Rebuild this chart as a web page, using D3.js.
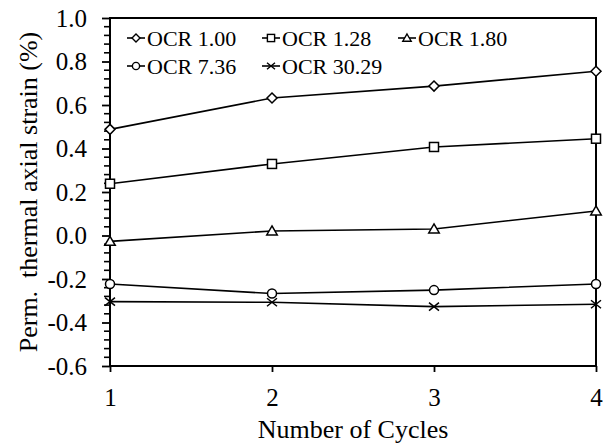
<!DOCTYPE html>
<html>
<head>
<meta charset="utf-8">
<script src="https://cdn.jsdelivr.net/npm/d3@7"></script>
<style>
  html, body { margin: 0; padding: 0; background: #fff; }
  svg { display: block; }
  svg text { font-family: "Liberation Serif", "Times New Roman", serif; }
</style>
</head>
<body>
<svg id="chart" width="605" height="443"></svg>
<script>
// Permanent thermal axial strain per heating/cooling cycle for each OCR
const cycles = [1, 2, 3, 4];
const seriesNames = ["OCR 1.00", "OCR 1.28", "OCR 1.80", "OCR 7.36", "OCR 30.29"];
const ocr100 = [0.488, 0.632, 0.687, 0.755];
const ocr128 = [0.238, 0.329, 0.407, 0.445];
const ocr180 = [-0.027, 0.021, 0.030, 0.113];
const ocr736 = [-0.223, -0.267, -0.251, -0.223];
const ocr3029 = [-0.304, -0.307, -0.327, -0.316];
const markerTypes = ["diamond", "square", "triangle", "circle", "cross"];
const yMajorTicks = [-0.6, -0.4, -0.2, 0.0, 0.2, 0.4, 0.6, 0.8, 1.0];
const xTicks = [1, 2, 3, 4];

const seriesValues = [ocr100, ocr128, ocr180, ocr736, ocr3029];

const W = 605, H = 443;
const margin = { top: 18, right: 9, bottom: 77, left: 110 };
const innerW = W - margin.left - margin.right;
const innerH = H - margin.top - margin.bottom;

const svg = d3.select("#chart");
const g = svg.append("g").attr("transform", `translate(${margin.left},${margin.top})`);

const x = d3.scaleLinear().domain([1, 4]).range([0, innerW]);
const y = d3.scaleLinear().domain([-0.6, 1.0]).range([innerH, 0]);

// Minor y ticks every 0.04
const minorTicks = d3.range(0, 41).map(i => -0.6 + i * 0.04)
  .filter(v => !yMajorTicks.some(m => Math.abs(m - v) < 1e-6));
g.append("g")
  .selectAll("line")
  .data(minorTicks)
  .join("line")
  .attr("x1", -6).attr("x2", 0)
  .attr("y1", d => y(d)).attr("y2", d => y(d))
  .attr("stroke", "#000").attr("stroke-width", 1.6);

// Left axis (plain hyphen for negatives)
const yAxis = g.append("g")
  .call(d3.axisLeft(y).tickValues(yMajorTicks)
    .tickFormat(d => (Math.abs(d) < 1e-9 ? 0 : d).toFixed(1))
    .tickSize(8).tickPadding(15));
yAxis.attr("font-family", null);
yAxis.select(".domain").remove();
yAxis.selectAll(".tick line").attr("stroke", "#000").attr("stroke-width", 1.8);
yAxis.selectAll(".tick text").attr("font-size", 25).attr("fill", "#000");

// Bottom axis
const xAxis = g.append("g")
  .attr("transform", `translate(0,${innerH})`)
  .call(d3.axisBottom(x).tickValues(xTicks).tickFormat(d3.format("d")).tickSize(6).tickPadding(16));
xAxis.attr("font-family", null);
xAxis.select(".domain").remove();
xAxis.selectAll(".tick line").attr("stroke", "#000").attr("stroke-width", 1.8);
xAxis.selectAll(".tick text").attr("font-size", 25).attr("fill", "#000");

// Frame
g.append("rect")
  .attr("x", 0).attr("y", 0).attr("width", innerW).attr("height", innerH)
  .attr("fill", "none").attr("stroke", "#000").attr("stroke-width", 2);

// Marker drawing
function drawMarker(sel, type, size) {
  const s = size;
  if (type === "diamond") {
    sel.append("path").attr("d", `M0,${-s}L${s},0L0,${s}L${-s},0Z`);
  } else if (type === "square") {
    sel.append("rect").attr("x", -s * 0.9).attr("y", -s * 0.9).attr("width", s * 1.8).attr("height", s * 1.8);
  } else if (type === "triangle") {
    sel.append("path").attr("d", `M0,${-s * 1.0}L${s * 1.05},${s * 0.8}L${-s * 1.05},${s * 0.8}Z`);
  } else if (type === "circle") {
    sel.append("circle").attr("r", s * 0.9);
  } else if (type === "cross") {
    sel.append("path").attr("d", `M${-s},${-s * 0.8}L${s},${s * 0.8}M${-s},${s * 0.8}L${s},${-s * 0.8}`);
  }
}

const line = d3.line().x((d, i) => x(cycles[i])).y(d => y(d));

seriesValues.forEach((vals, si) => {
  g.append("path")
    .datum(vals)
    .attr("d", line)
    .attr("fill", "none")
    .attr("stroke", "#000")
    .attr("stroke-width", 1.6);
  vals.forEach((v, i) => {
    const m = g.append("g")
      .attr("transform", `translate(${x(cycles[i])},${y(v)})`)
      .attr("fill", "#fff").attr("stroke", "#000").attr("stroke-width", 1.5);
    drawMarker(m, markerTypes[si], 5);
  });
});

// Legend
const legendCols = [127, 262, 398];
const legendRows = [45.5, 73.5];
seriesNames.forEach((name, i) => {
  const col = i % 3, row = Math.floor(i / 3);
  const lx = legendCols[col], ly = legendRows[row];
  const lg = svg.append("g").attr("transform", `translate(${lx},${ly})`);
  lg.append("line").attr("x1", 0).attr("x2", 18).attr("y1", -7.5).attr("y2", -7.5)
    .attr("stroke", "#000").attr("stroke-width", 1.6);
  const m = lg.append("g").attr("transform", "translate(9,-7.5)")
    .attr("fill", "#fff").attr("stroke", "#000").attr("stroke-width", 1.4);
  drawMarker(m, markerTypes[i], 4);
  lg.append("text").attr("x", 20).attr("y", 0)
    .attr("font-size", 22).attr("fill", "#000").text(name);
});

// Axis titles
svg.append("text")
  .attr("x", margin.left + innerW / 2).attr("y", 438)
  .attr("text-anchor", "middle").attr("font-size", 26).attr("fill", "#000")
  .text("Number of Cycles");

svg.append("text")
  .attr("transform", `translate(37,${margin.top + innerH / 2}) rotate(-90)`)
  .attr("text-anchor", "middle").attr("font-size", 26).attr("fill", "#000")
  .attr("xml:space", "preserve").style("white-space", "pre")
  .text("Perm.  thermal axial strain (%)");
</script>
</body>
</html>
